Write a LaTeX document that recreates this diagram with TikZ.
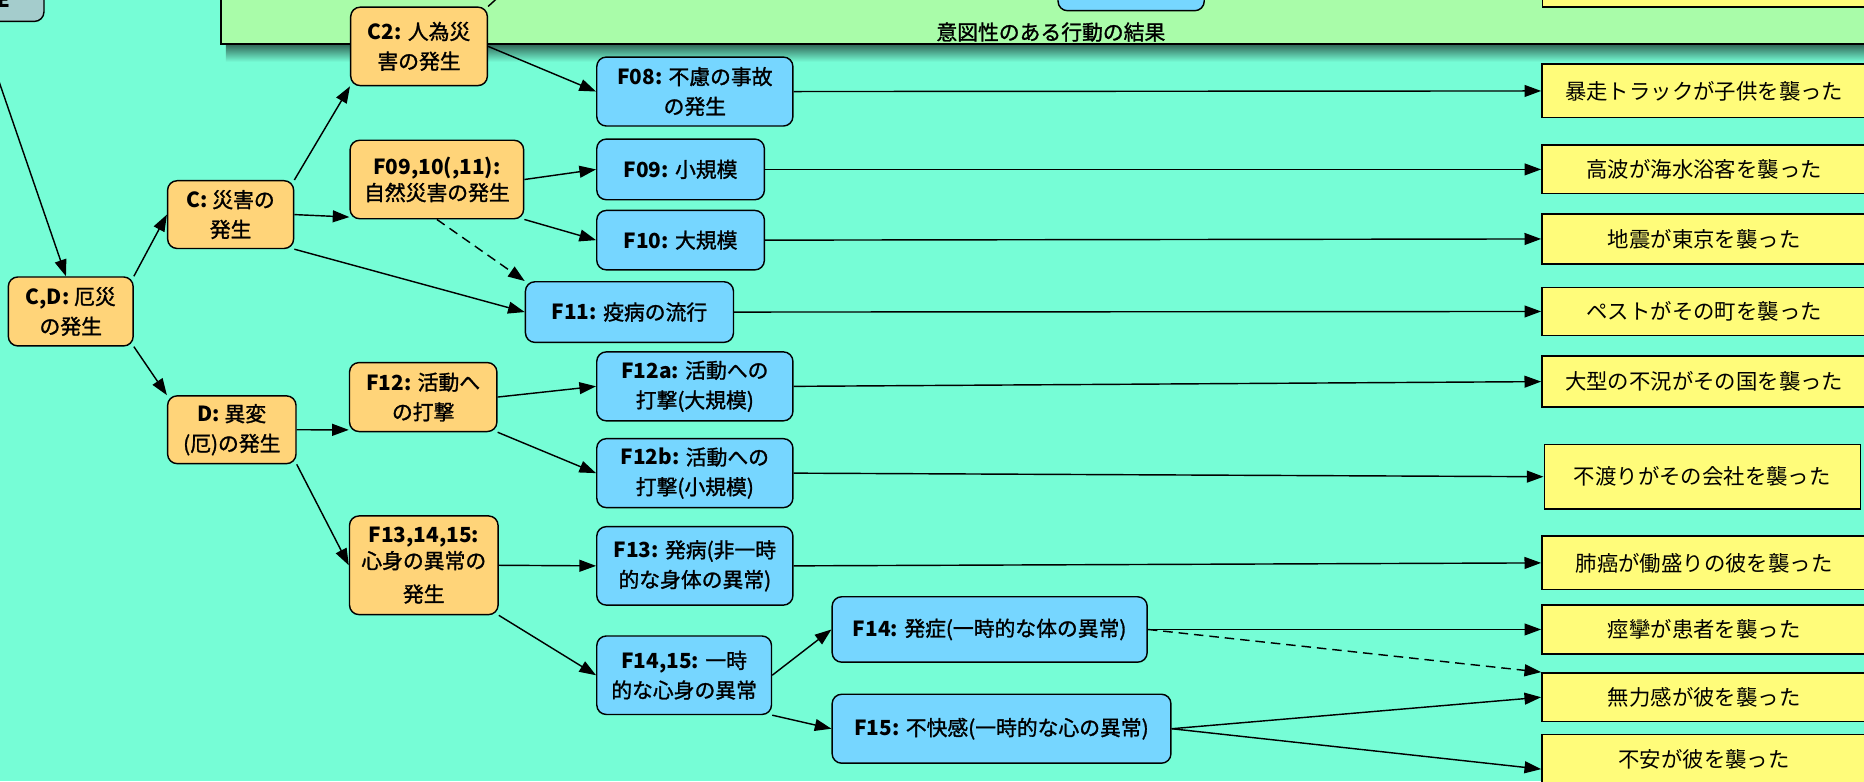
\documentclass[tikz,border=0pt]{standalone}
\usepackage{fontspec}
\setmainfont{Noto Sans CJK JP}
\newfontfamily\jpn{Noto Sans CJK JP}
\newfontfamily\jpm[FakeBold=1.3]{Noto Sans CJK JP}
\usetikzlibrary{arrows.meta}
\definecolor{cBg}{RGB}{118,253,214}
\definecolor{cOrange}{RGB}{255,212,121}
\definecolor{cBlue}{RGB}{118,214,255}
\definecolor{cYellow}{RGB}{255,252,122}
\definecolor{cGreen}{RGB}{169,252,169}
\definecolor{cGray}{RGB}{164,204,204}
\newcommand\lab[1]{{\jpn\bfseries #1}}
\tikzset{
  base/.style={draw=black, line width=1.2pt, align=center, inner sep=0pt,
    font=\jpm\fontsize{17.5}{25}\selectfont},
  obox/.style={base, rounded corners=8pt, fill=cOrange},
  bbox/.style={base, rounded corners=8pt, fill=cBlue},
  gbox/.style={base, rounded corners=8pt, fill=cGray},
  ybox/.style={draw=black, line width=1.2pt, fill=cYellow, inner sep=0pt,
    font=\jpn\fontsize{18}{22}\selectfont},
  arr/.style={line width=1.2pt, -{Triangle[length=14pt,width=10pt]}},
  darr/.style={arr, dash pattern=on 8pt off 5pt},
}
\begin{document}
\begin{tikzpicture}[x=1pt,y=-1pt]
\useasboundingbox (0,0) rectangle (1568,657);
\clip (0,0) rectangle (1568,657);
\fill[cBg] (0,0) rectangle (1568,657);
% panel with shadow
\shade[top color=cBg!40!black, bottom color=cBg] (190,37) rectangle (1600,52);
\draw[fill=cGreen, line width=1.2pt] (186,-40) rectangle (1600,37);
\node[font=\jpm\fontsize{17.5}{20}\selectfont] (title) at (884,27) {意図性のある行動の結果};
\node[bbox, minimum width=123pt, minimum height=49pt] (PB) at (951.5,-15.5) {};
\node[ybox, minimum width=273pt, minimum height=46pt] (PY) at (1434,-17) {};
% top-left gray node
\node[gbox, minimum width=110pt, minimum height=60pt] (E) at (-18,-12) {};
\node[anchor=base east, inner sep=0pt, font=\jpn\bfseries\fontsize{17}{20}\selectfont] (Etxt) at (8.5,6) {E};
% orange nodes
\node[obox, minimum width=105pt, minimum height=58pt] (CD) at (59.5,262) {\lab{C,D:} 厄災\\の発生};
\node[obox, minimum width=106pt, minimum height=57pt] (C) at (194,180.5) {\lab{C:} 災害の\\発生};
\node[obox, minimum width=108pt, minimum height=57pt] (D) at (195,361.5) {\lab{D:} 異変\\(厄)の発生};
\node[obox, minimum width=115pt, minimum height=66pt] (C2) at (352.5,39) {\lab{C2:} 人為災\\害の発生};
\node[obox, minimum width=146pt, minimum height=66pt] (F0910) at (367.5,151) {\lab{F09,10(,11):}\\[-3pt]自然災害の発生};
\node[obox, minimum width=124pt, minimum height=58pt] (F12) at (356,334) {\lab{F12:} 活動へ\\の打撃};
\node[obox, minimum width=125pt, minimum height=83pt] (F131415) at (356.5,475.5) {\lab{F13,14,15:}\\[-3pt]心身の異常の\\[3pt]発生};
% blue nodes
\node[bbox, minimum width=165pt, minimum height=58pt] (F08) at (584.5,77) {\lab{F08:} 不慮の事故\\の発生};
\node[bbox, minimum width=141pt, minimum height=51pt] (F09) at (572.5,142.5) {\lab{F09:} 小規模};
\node[bbox, minimum width=141pt, minimum height=50pt] (F10) at (572.5,202) {\lab{F10:} 大規模};
\node[bbox, minimum width=175pt, minimum height=51pt] (F11) at (529.5,262.5) {\lab{F11:} 疫病の流行};
\node[bbox, minimum width=165pt, minimum height=58pt] (F12a) at (584.5,325) {\lab{F12a:} 活動への\\打撃(大規模)};
\node[bbox, minimum width=165pt, minimum height=58pt] (F12b) at (584.5,398) {\lab{F12b:} 活動への\\打撃(小規模)};
\node[bbox, minimum width=165pt, minimum height=66pt] (F13) at (584.5,476) {\lab{F13:} 発病(非一時\\的な身体の異常)};
\node[bbox, minimum width=147pt, minimum height=66pt] (F1415) at (575.5,568) {\lab{F14,15:} 一時\\的な心身の異常};
\node[bbox, minimum width=265pt, minimum height=55pt] (F14) at (832.5,529.5) {\lab{F14:} 発症(一時的な体の異常)};
\node[bbox, minimum width=285pt, minimum height=58pt] (F15) at (842.5,613) {\lab{F15:} 不快感(一時的な心の異常)};
% yellow nodes
\node[ybox, minimum width=273pt, minimum height=45pt] (Y1) at (1433.5,76.5) {暴走トラックが子供を襲った};
\node[ybox, minimum width=273pt, minimum height=41pt] (Y2) at (1433.5,142.5) {高波が海水浴客を襲った};
\node[ybox, minimum width=273pt, minimum height=42pt] (Y3) at (1433.5,201) {地震が東京を襲った};
\node[ybox, minimum width=273pt, minimum height=40pt] (Y4) at (1433.5,262) {ペストがその町を襲った};
\node[ybox, minimum width=273pt, minimum height=43pt] (Y5) at (1433.5,321) {大型の不況がその国を襲った};
\node[ybox, minimum width=266pt, minimum height=54pt] (Y6) at (1432,401) {不渡りがその会社を襲った};
\node[ybox, minimum width=273pt, minimum height=45pt] (Y7) at (1433.5,473.5) {肺癌が働盛りの彼を襲った};
\node[ybox, minimum width=273pt, minimum height=41pt] (Y8) at (1433.5,529.5) {痙攣が患者を襲った};
\node[ybox, minimum width=273pt, minimum height=41pt] (Y9) at (1433.5,586.5) {無力感が彼を襲った};
\node[ybox, minimum width=273pt, minimum height=42pt] (Y10) at (1433.5,639) {不安が彼を襲った};
% edges
\coordinate (up) at (432,-14);
\draw[line width=1.2pt] (C2.north east) -- (up);
\draw[arr] (E.south) -- ([xshift=-4pt]CD.north);
\draw[arr] (CD.north east) -- (C.west);
\draw[arr] (CD.south east) -- (D.north west);
\draw[arr] (C.north east) -- (C2.south west);
\draw[arr] (C.east) -- ([yshift=2pt]F0910.south west);
\draw[arr] (C.south east) -- (F11.west);
\draw[arr] (C2.east) -- (F08.west);
\draw[arr] (F0910.east) -- (F09.west);
\draw[arr] (F0910.south east) -- (F10.west);
\draw[darr] (F0910.south) -- (F11.north west);
\draw[arr] (D.east) -- ([yshift=2pt]F12.south west);
\draw[arr] (D.south east) -- (F131415.west);
\draw[arr] (F12.east) -- (F12a.west);
\draw[arr] (F12.south east) -- (F12b.west);
\draw[arr] (F131415.east) -- (F13.west);
\draw[arr] (F131415.south east) -- (F1415.west);
\draw[arr] (F1415.east) -- (F14.west);
\draw[arr] (F1415.south east) -- (F15.west);
\draw[arr] (F08.east) -- (Y1.west);
\draw[arr] (F09.east) -- (Y2.west);
\draw[arr] (F10.east) -- (Y3.west);
\draw[arr] (F11.east) -- (Y4.west);
\draw[arr] (F12a.east) -- (Y5.west);
\draw[arr] (F12b.east) -- (Y6.west);
\draw[arr] (F13.east) -- (Y7.west);
\draw[arr] (F14.east) -- (Y8.west);
\draw[darr] (F14.east) -- (Y9.north west);
\draw[arr] (F15.east) -- (Y9.west);
\draw[arr] (F15.east) -- ([yshift=-8pt]Y10.west);
\end{tikzpicture}
\end{document}
